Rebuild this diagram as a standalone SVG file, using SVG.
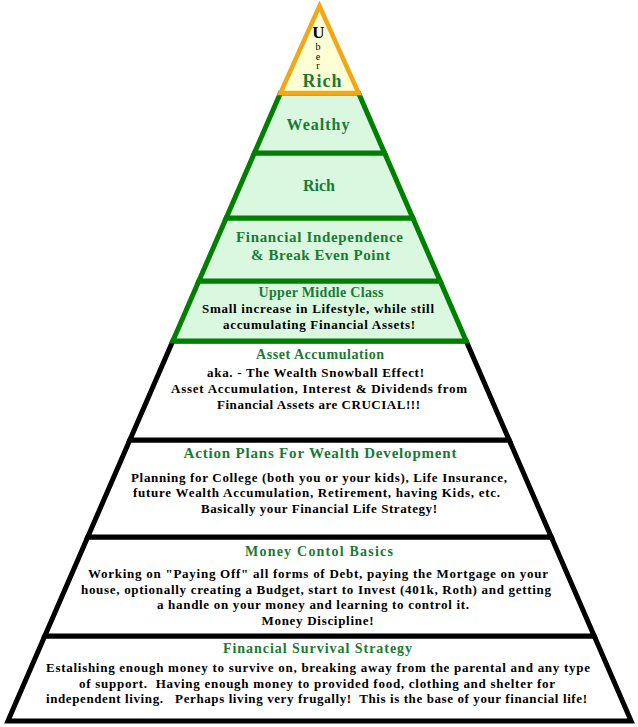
<svg xmlns="http://www.w3.org/2000/svg" width="638" height="727" viewBox="0 0 638 727">
<style>
.band{stroke-linejoin:miter;stroke-width:5}
.blk{fill:#ffffff;stroke:#000000}
.grn{fill:#d9f8df;stroke:#008000}
.ubr{fill:#ffffd6;stroke:#f0a818;stroke-width:4.5}
text{font-family:'Liberation Serif',serif;font-weight:bold;text-anchor:middle;white-space:pre}
.g{fill:#1a7a35}
.k{fill:#000000}
.b13{font-size:13px}
.vert{font-weight:normal;font-size:10px;writing-mode:vertical-rl;text-orientation:upright;text-anchor:start;letter-spacing:-1.5px}
</style>
<rect x="0" y="0" width="638" height="727" fill="#ffffff"/>
<g id="connectors"/>
<g id="survival">
<polygon class="band blk" points="44.78,636 594.22,636 631.11,721 7.89,721"/>
<text class="g" x="317.5" y="653" font-size="14" textLength="189">Financial Survival Strategy</text>
<text class="k b13" x="318" y="672" textLength="544">Estalishing enough money to survive on, breaking away from the parental and any type</text>
<text class="k b13" x="317" y="688" textLength="476">of support.  Having enough money to provided food, clothing and shelter for</text>
<text class="k b13" x="316.5" y="703" textLength="541">independent living.   Perhaps living very frugally!  This is the base of your financial life!</text>
</g>
<g id="money">
<polygon class="band blk" points="87.74,537 551.26,537 594.22,636 44.78,636"/>
<text class="g" x="319" y="556" font-size="14" textLength="148">Money Contol Basics</text>
<text class="k b13" x="318" y="578" textLength="460">Working on "Paying Off" all forms of Debt, paying the Mortgage on your</text>
<text class="k b13" x="316" y="594" textLength="470">house, optionally creating a Budget, start to Invest (401k, Roth) and getting</text>
<text class="k b13" x="313" y="609" textLength="312">a handle on your money and learning to control it.</text>
<text class="k b13" x="317.5" y="625" textLength="112">Money Discipline!</text>
</g>
<g id="action">
<polygon class="band blk" points="129.84,440 509.16,440 551.26,537 87.74,537"/>
<text class="g" x="320" y="458" font-size="15" textLength="273">Action Plans For Wealth Development</text>
<text class="k b13" x="319" y="482" textLength="376">Planning for College (both you or your kids), Life Insurance,</text>
<text class="k b13" x="316.5" y="497" textLength="367">future Wealth Accumulation, Retirement, having Kids, etc.</text>
<text class="k b13" x="319" y="513" textLength="236">Basically your Financial Life Strategy!</text>
</g>
<g id="asset">
<polygon class="band blk" points="172.81,341 466.19,341 509.16,440 129.84,440"/>
<text class="g" x="320" y="359" font-size="14" textLength="128">Asset Accumulation</text>
<text class="k b13" x="315.5" y="377" textLength="217">aka. - The Wealth Snowball Effect!</text>
<text class="k b13" x="319" y="393" textLength="296">Asset Accumulation, Interest &amp; Dividends from</text>
<text class="k b13" x="318.5" y="409" textLength="203">Financial Assets are CRUCIAL!!!</text>
</g>
<g id="upper-middle">
<polygon class="band grn" points="198.85,281 440.15,281 466.19,341 172.81,341"/>
<text class="g" x="321" y="297" font-size="14" textLength="125">Upper Middle Class</text>
<text class="k b13" x="318" y="313" textLength="232">Small increase in Lifestyle, while still</text>
<text class="k b13" x="319" y="329" textLength="192">accumulating Financial Assets!</text>
</g>
<g id="independence">
<polygon class="band grn" points="226.19,218 412.81,218 440.15,281 198.85,281"/>
<text class="g" x="319.5" y="242" font-size="15" textLength="167">Financial Independence</text>
<text class="g" x="320.5" y="260" font-size="15" textLength="139">&amp; Break Even Point</text>
</g>
<g id="rich">
<polygon class="band grn" points="254.4,153 384.6,153 412.81,218 226.19,218"/>
<text class="g" x="319" y="191" font-size="16" textLength="32">Rich</text>
</g>
<g id="wealthy">
<polygon class="band grn" points="280.44,93 358.56,93 384.6,153 254.4,153"/>
<text class="g" x="318" y="130" font-size="16" textLength="63">Wealthy</text>
</g>
<g id="uber-rich">
<polygon class="band ubr" points="319.5,6 358.56,93 280.44,93"/>
<text class="k" x="318.5" y="38" font-size="17">U</text>
<text class="k vert" x="318" y="41">ber</text>
<text class="g" x="322" y="87" font-size="18" textLength="39">Rich</text>
</g>
</svg>
